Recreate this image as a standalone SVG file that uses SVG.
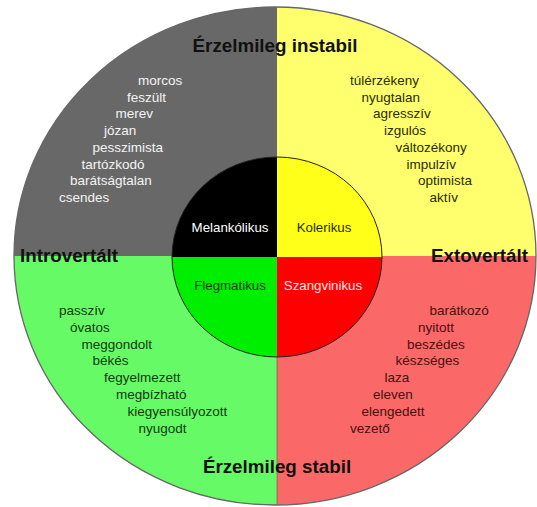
<svg xmlns="http://www.w3.org/2000/svg" width="537" height="507" viewBox="0 0 537 507">
<style>
.title{font-family:"Liberation Sans",Arial,sans-serif;font-weight:bold;font-size:18.8px;fill:#111;}
.word{font-family:"Liberation Sans",Arial,sans-serif;font-size:13.5px;}
.core{font-family:"Liberation Sans",Arial,sans-serif;font-size:13.3px;text-anchor:middle;}
.w1{fill:#f4f4f4;}
.w2{fill:#2b2b00;}
.w3{fill:#0f3a0f;}
.w4{fill:#4a0f0f;}
</style>
<defs>
<clipPath id="outerClip"><ellipse cx="275" cy="256" rx="261" ry="249"/></clipPath>
<clipPath id="innerClip"><ellipse cx="277" cy="257" rx="105" ry="100"/></clipPath>
</defs>
<rect x="0" y="0" width="537" height="507" fill="#ffffff"/>

<g id="outer-ring" clip-path="url(#outerClip)">
<rect id="q-melankolikus" x="0" y="0" width="277" height="256" fill="#686868"/>
<rect id="q-kolerikus" x="277" y="0" width="260" height="256" fill="#ffff6e"/>
<rect id="q-flegmatikus" x="0" y="256" width="277" height="251" fill="#66fa66"/>
<rect id="q-szangvinikus" x="277" y="256" width="260" height="251" fill="#fb6868"/>
</g>

<g id="dividers" stroke="#555" stroke-width="1" stroke-opacity="0.55">
<line x1="277" y1="357" x2="277" y2="505"/>
</g>

<ellipse cx="275" cy="256" rx="261" ry="249" fill="none" stroke="#666" stroke-width="1.3"/>

<g id="inner-circle">
<g clip-path="url(#innerClip)">
<rect x="0" y="0" width="277" height="257" fill="#000000"/>
<rect x="277" y="0" width="260" height="257" fill="#ffff1a"/>
<rect x="0" y="257" width="277" height="250" fill="#00ee00"/>
<rect x="277" y="257" width="260" height="250" fill="#ff0000"/>
</g>
<ellipse cx="277" cy="257" rx="105" ry="100" fill="none" stroke="#222" stroke-width="1"/>
</g>

<g id="core-labels">
<text class="core" x="230" y="232" fill="#ffffff">Melankólikus</text>
<text class="core" x="324" y="232" fill="#2b2b00">Kolerikus</text>
<text class="core" x="230" y="290" fill="#0a3a0a">Flegmatikus</text>
<text class="core" x="323" y="290" fill="#ffe8e8">Szangvinikus</text>
</g>

<g id="titles">
<text class="title" x="275" y="52" text-anchor="middle">Érzelmileg instabil</text>
<text class="title" x="277" y="473" text-anchor="middle">Érzelmileg stabil</text>
<text class="title" x="20" y="262">Introvertált</text>
<text class="title" x="528" y="262" text-anchor="end">Extovertált</text>
</g>

<g id="words-melankolikus" class="word w1">
<text x="138" y="85">morcos</text>
<text x="127" y="101.7">feszült</text>
<text x="115.5" y="118.4">merev</text>
<text x="104" y="135.1">józan</text>
<text x="92.5" y="151.9">pesszimista</text>
<text x="81.5" y="168.6">tartózkodó</text>
<text x="70" y="185.3">barátságtalan</text>
<text x="59" y="202">csendes</text>
</g>

<g id="words-kolerikus" class="word w2">
<text x="350" y="85">túlérzékeny</text>
<text x="361.5" y="101.7">nyugtalan</text>
<text x="373" y="118.4">agresszív</text>
<text x="384" y="135.1">izgulós</text>
<text x="395.5" y="151.9">változékony</text>
<text x="406.5" y="168.6">impulzív</text>
<text x="418" y="185.3">optimista</text>
<text x="429.5" y="202">aktív</text>
</g>

<g id="words-flegmatikus" class="word w3">
<text x="59" y="315">passzív</text>
<text x="70" y="331.8">óvatos</text>
<text x="81.5" y="348.6">meggondolt</text>
<text x="92.5" y="365.4">békés</text>
<text x="104" y="382.2">fegyelmezett</text>
<text x="116" y="399">megbízható</text>
<text x="127.5" y="415.8">kiegyensúlyozott</text>
<text x="138.5" y="432.6">nyugodt</text>
</g>

<g id="words-szangvinikus" class="word w4">
<text x="429.5" y="315">barátkozó</text>
<text x="418" y="331.8">nyitott</text>
<text x="407" y="348.6">beszédes</text>
<text x="395.5" y="365.4">készséges</text>
<text x="384.5" y="382.2">laza</text>
<text x="373" y="399">eleven</text>
<text x="361.5" y="415.8">elengedett</text>
<text x="350" y="432.6">vezető</text>
</g>
</svg>
